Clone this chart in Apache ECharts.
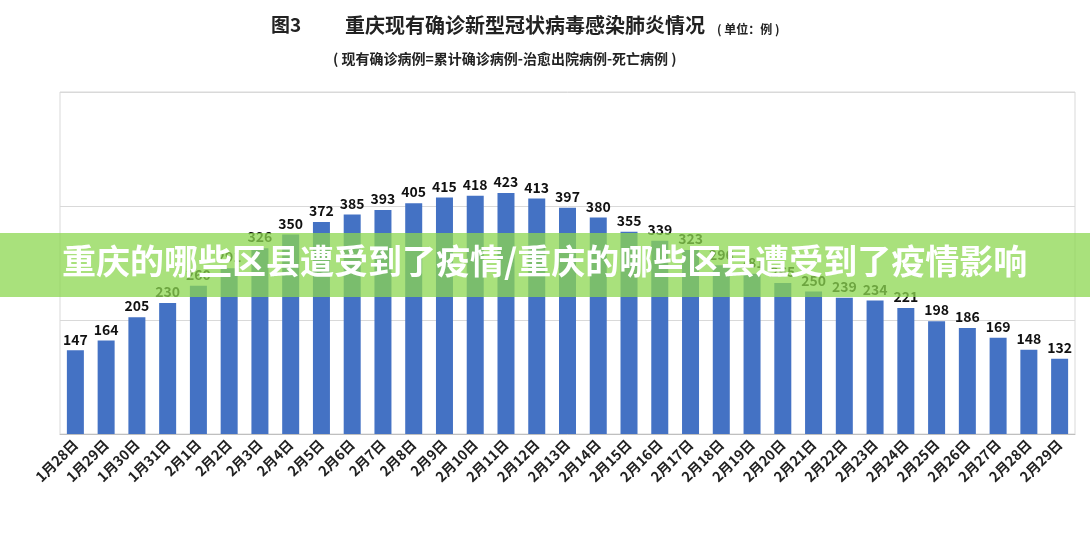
<!DOCTYPE html><html><head><meta charset="utf-8"><script src="https://cdn.jsdelivr.net/npm/echarts@6/dist/echarts.min.js"></script></head><body style="margin:0;background:#fff"><div id="c" style="width:1090px;height:533px"></div><script>
const categories=['1月28日','1月29日','1月30日','1月31日','2月1日','2月2日','2月3日','2月4日','2月5日','2月6日','2月7日','2月8日','2月9日','2月10日','2月11日','2月12日','2月13日','2月14日','2月15日','2月16日','2月17日','2月18日','2月19日','2月20日','2月21日','2月22日','2月23日','2月24日','2月25日','2月26日','2月27日','2月28日','2月29日'];
const values=[147,164,205,230,260,291,326,350,372,385,393,405,415,418,423,413,397,380,355,339,323,296,281,265,250,239,234,221,198,186,169,148,132];
const yTicks=[0,200,400,600];
const f='"Noto Sans CJK SC"';
const chart=echarts.init(document.getElementById('c'));
chart.setOption({
 animation:false,
 title:[{text:'图3',left:266,top:10,textStyle:{fontFamily:f,fontSize:19,fontWeight:'bold',color:'#222'}},
 {text:'重庆现有确诊新型冠状病毒感染肺炎情况',left:340,top:10,textStyle:{fontFamily:f,fontSize:20,fontWeight:'bold',color:'#222'}},
 {text:'( 单位：例 )',left:712,top:18,textStyle:{fontFamily:f,fontSize:12,fontWeight:'bold',color:'#222'}},
 {text:'( 现有确诊病例=累计确诊病例-治愈出院病例-死亡病例 )',left:328,top:47,textStyle:{fontFamily:f,fontSize:14,fontWeight:'bold',color:'#222'}}],
 grid:{left:60,right:15,top:92,bottom:99,show:true,borderColor:'#d9d9d9'},
 xAxis:{type:'category',data:categories,axisTick:{show:false},axisLine:{lineStyle:{color:'#bfbfbf'}},axisLabel:{interval:0,rotate:45,fontFamily:f,fontSize:14,fontWeight:'bold',color:'#222'}},
 yAxis:{type:'value',min:yTicks[0],max:yTicks[3],interval:200,axisLabel:{show:false},splitLine:{lineStyle:{color:'#d9d9d9'}}},
 series:[{type:'bar',data:values,barWidth:17,itemStyle:{color:'#4472C4'},label:{show:true,position:'top',distance:4,fontFamily:f,fontSize:14,fontWeight:'bold',color:'#111'}}],
 graphic:[{type:'rect',shape:{x:0,y:233,width:1090,height:64},style:{fill:'rgba(140,215,80,0.75)'},z:100},
 {type:'text',left:62,top:244,style:{text:'重庆的哪些区县遭受到了疫情/重庆的哪些区县遭受到了疫情影响',fontFamily:f,fontSize:34,fontWeight:'bold',fill:'#fff'},z:101}]
});
</script></body></html>
